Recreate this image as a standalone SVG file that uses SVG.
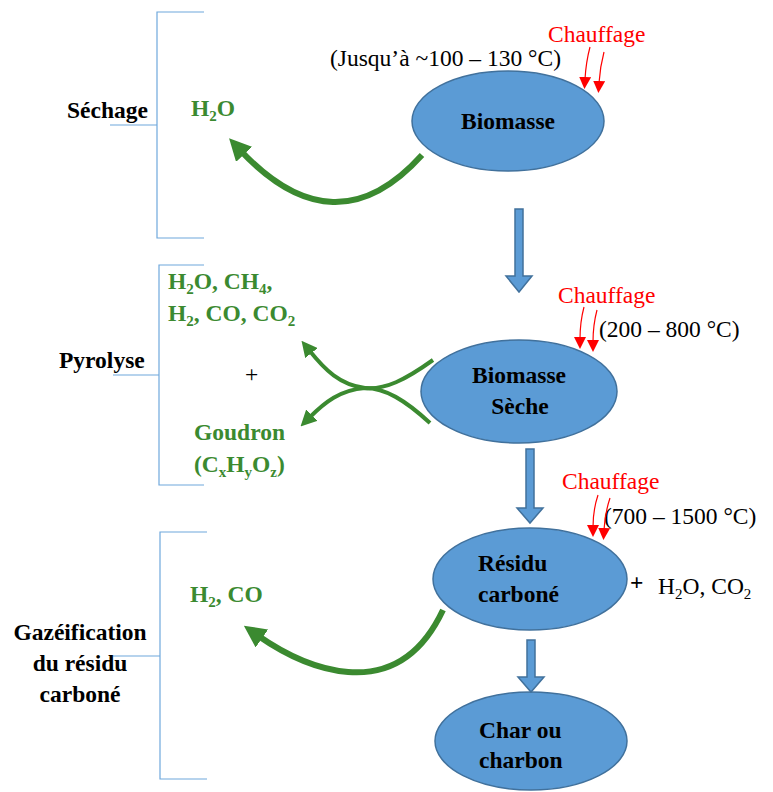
<svg xmlns="http://www.w3.org/2000/svg" width="773" height="792" viewBox="0 0 773 792">
<style>
text{font-family:"Liberation Serif","Times New Roman",serif;font-size:23.5px;fill:#000}
.b{font-weight:bold}
.g{fill:#3b8a30;font-weight:bold}
.r{fill:#ff0000}
.sub{font-size:15px}
.node{fill:#5b9bd5;stroke:#41719c;stroke-width:1.5}
.blk{fill:#5b9bd5;stroke:#41719c;stroke-width:1.5}
.brk{fill:none;stroke:#6fa8dc;stroke-width:1.2}
.garrow{fill:none;stroke:#3b8a30;stroke-width:6}
.garrow2{fill:none;stroke:#3b8a30;stroke-width:4}
.rarrow{fill:none;stroke:#ff0000;stroke-width:1.2}
</style>
<defs>
<marker id="mg" viewBox="0 0 22 22" refX="6" refY="11" markerWidth="22" markerHeight="22" markerUnits="userSpaceOnUse" orient="auto"><path d="M0 0 L22 11 L0 22 Z" fill="#3b8a30"/></marker>
<marker id="mg2" viewBox="0 0 16 16" refX="4" refY="8" markerWidth="16" markerHeight="16" markerUnits="userSpaceOnUse" orient="auto"><path d="M0 0 L16 8 L0 16 Z" fill="#3b8a30"/></marker>
<marker id="mr" viewBox="0 0 12 12" refX="2" refY="6" markerWidth="12" markerHeight="12" markerUnits="userSpaceOnUse" orient="auto"><path d="M0 0 L12 6 L0 12 Z" fill="#ff0000"/></marker>
</defs>

<g id="bracket-sechage">
<path class="brk" d="M204 12 H157 V238 H204 M110 125 H157"/>
<text class="b" x="67" y="118">Séchage</text>
</g>
<g id="bracket-pyrolyse">
<path class="brk" d="M204 265 H159 V485 H204 M113 375 H159"/>
<text class="b" x="59" y="368">Pyrolyse</text>
</g>
<g id="bracket-gazeification">
<path class="brk" d="M207 532 H160 V779 H207 M113 656 H160"/>
<text class="b" x="80" y="640" text-anchor="middle">Gazéification</text>
<text class="b" x="80" y="671" text-anchor="middle">du résidu</text>
<text class="b" x="80" y="702" text-anchor="middle">carboné</text>
</g>

<g id="biomasse">
<ellipse class="node" cx="508" cy="121" rx="96" ry="50"/>
<text class="b" x="508" y="129" text-anchor="middle">Biomasse</text>
</g>
<g id="biomasse-seche">
<ellipse class="node" cx="519" cy="391.5" rx="98" ry="51.5"/>
<text class="b" x="519" y="383" text-anchor="middle">Biomasse</text>
<text class="b" x="520" y="414" text-anchor="middle">Sèche</text>
</g>
<g id="residu">
<ellipse class="node" cx="530" cy="579" rx="97" ry="51"/>
<text class="b" x="478" y="571">Résidu</text>
<text class="b" x="478" y="602">carboné</text>
</g>
<g id="char">
<ellipse class="node" cx="531" cy="741" rx="96" ry="49"/>
<text class="b" x="479" y="738">Char ou</text>
<text class="b" x="479" y="768">charbon</text>
</g>

<g id="products">
<text class="g" x="191" y="116">H<tspan class="sub" dy="5">2</tspan><tspan dy="-5">O</tspan></text>
<text class="g" x="168" y="289">H<tspan class="sub" dy="5">2</tspan><tspan dy="-5">O, CH</tspan><tspan class="sub" dy="5">4</tspan><tspan dy="-5">,</tspan></text>
<text class="g" x="168" y="321">H<tspan class="sub" dy="5">2</tspan><tspan dy="-5">, CO, CO</tspan><tspan class="sub" dy="5">2</tspan></text>
<text x="245" y="382">+</text>
<text class="g" x="194" y="440">Goudron</text>
<text class="g" x="194" y="472">(C<tspan class="sub" dy="5">x</tspan><tspan dy="-5">H</tspan><tspan class="sub" dy="5">y</tspan><tspan dy="-5">O</tspan><tspan class="sub" dy="5">z</tspan><tspan dy="-5">)</tspan></text>
<text class="g" x="190" y="602">H<tspan class="sub" dy="5">2</tspan><tspan dy="-5">, CO</tspan></text>
<text class="b" x="630" y="590">+</text>
<text x="658" y="594">H<tspan class="sub" dy="5">2</tspan><tspan dy="-5">O, CO</tspan><tspan class="sub" dy="5">2</tspan></text>
</g>

<g id="heating">
<text class="r" x="548" y="42">Chauffage</text>
<text x="330" y="66">(Jusqu’à ~100 – 130 °C)</text>
<text class="r" x="558" y="303">Chauffage</text>
<text x="599" y="337">(200 – 800 °C)</text>
<text class="r" x="562" y="489">Chauffage</text>
<text x="604" y="524">(700 – 1500 °C)</text>
</g>

<g id="connectors">
<path class="blk" d="M515 209 H523 V276 H532 L519 292 L506 276 H515 Z"/>
<path class="blk" d="M526 449 H534 V508 H543 L530 523 L517 508 H526 Z"/>
<path class="blk" d="M527 640 H535 V677 H544 L531 692 L518 677 H527 Z"/>
<path class="garrow" marker-end="url(#mg)" d="M422 155 Q335 251.5 240 150"/>
<path class="garrow" marker-end="url(#mg)" d="M443 610 C395 712 300 665 257 635"/>
<path class="garrow2" marker-end="url(#mg2)" d="M433 360 C405 380 385 390 365 388 C340 385 325 370 309 350"/>
<path class="garrow2" marker-end="url(#mg2)" d="M430 423 C405 400 385 388 365 388 C340 390 325 402 309 418"/>
<path class="rarrow" marker-end="url(#mr)" d="M590 47 Q586 62 585 79"/>
<path class="rarrow" marker-end="url(#mr)" d="M604 52 Q600 67 599 83"/>
<path class="rarrow" marker-end="url(#mr)" d="M584 307 Q580 322 580 339"/>
<path class="rarrow" marker-end="url(#mr)" d="M597 310 Q593 325 593 342"/>
<path class="rarrow" marker-end="url(#mr)" d="M598 495 Q593 510 593 527"/>
<path class="rarrow" marker-end="url(#mr)" d="M610 498 Q605 513 604 530"/>
</g>
</svg>
